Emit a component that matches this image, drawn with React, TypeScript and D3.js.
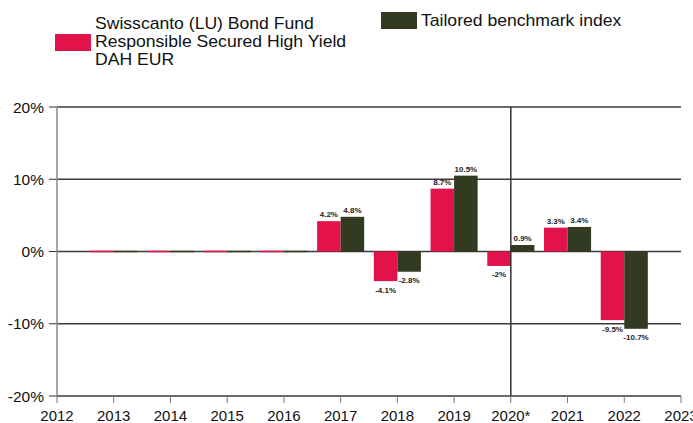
import React from "react";
import * as d3 from "d3";

const years = [2013, 2014, 2015, 2016, 2017, 2018, 2019, 2020, 2021, 2022];
const fundValues = [0, 0, 0, 0, 4.2, -4.1, 8.7, -2, 3.3, -9.5];
const fundLabels = ["", "", "", "", "4.2%", "-4.1%", "8.7%", "-2%", "3.3%", "-9.5%"];
const benchValues = [0, 0, 0, 0, 4.8, -2.8, 10.5, 0.9, 3.4, -10.7];
const benchLabels = ["", "", "", "", "4.8%", "-2.8%", "10.5%", "0.9%", "3.4%", "-10.7%"];
const xTickYears = [2012, 2013, 2014, 2015, 2016, 2017, 2018, 2019, 2020, 2021, 2022, 2023];
const xTickLabels = ["2012", "2013", "2014", "2015", "2016", "2017", "2018", "2019", "2020*", "2021", "2022", "2023"];
const yTicks = [20, 10, 0, -10, -20];
const fundName = ["Swisscanto (LU) Bond Fund", "Responsible Secured High Yield", "DAH EUR"];
const benchName = "Tailored benchmark index";

const PINK = "#E2124A";
const DARK = "#323A21";
const FONT = "Liberation Sans, Arial, sans-serif";

export default function App() {
  const W = 693, H = 423;
  const left = 57, right = 681, top = 107, bottom = 396;
  const x = d3.scaleLinear().domain([2012, 2023]).range([left, right]);
  const y = d3.scaleLinear().domain([-20, 20]).range([bottom, top]);
  const step = x(2013) - x(2012);
  const barW = step * 0.415;
  const minH = 1.5;
  const sx = 1.1;

  const bar = (v: number, cx: number, color: string, key: string) => {
    const y0 = y(0), y1 = y(v);
    let yy = Math.min(y0, y1);
    let h = Math.abs(y1 - y0);
    if (h < minH) { h = minH; yy = y0 - minH / 2; }
    return <rect key={key} x={cx} y={yy} width={barW} height={h} fill={color} />;
  };
  const label = (v: number, text: string, cx: number, key: string) => {
    if (!text) return null;
    const ty = v >= 0 ? y(v) - 4 : y(v) + 11.5;
    return (
      <text key={key} x={cx + barW / 2} y={ty} textAnchor="middle" fontSize={8} fontWeight="bold" fill="#222" fontFamily={FONT}>
        {text}
      </text>
    );
  };

  return (
    <svg width={W} height={H} style={{ position: "absolute", left: 0, top: 0 }} fontFamily={FONT}>
      <rect width={W} height={H} fill="#fff" />
      {/* legend */}
      <rect x={55} y={34} width={36} height={17} fill={PINK} />
      <g transform={`translate(95,0) scale(${sx},1)`}>
        {fundName.map((t, i) => (
          <text key={t} x={0} y={29 + i * 18} fontSize={16} fill="#111">{t}</text>
        ))}
      </g>
      <rect x={381} y={12} width={36} height={17} fill={DARK} />
      <g transform={`translate(421,0) scale(${sx},1)`}>
        <text x={0} y={26} fontSize={16} fill="#111">{benchName}</text>
      </g>

      {/* gridlines */}
      {yTicks.map((t) => (
        <line key={"g" + t} x1={left} x2={right} y1={y(t)} y2={y(t)} stroke="#3a3a3a" strokeWidth={1.5} />
      ))}
      {/* y ticks */}
      {yTicks.map((t) => (
        <g key={"yt" + t}>
          <line x1={left - 8} x2={left} y1={y(t)} y2={y(t)} stroke="#333" strokeWidth={1} />
          <text x={44} y={y(t)} dy="0.36em" textAnchor="end" fontSize={15.5} fill="#111">{t + "%"}</text>
        </g>
      ))}
      {/* left axis */}
      <line x1={left} x2={left} y1={top} y2={bottom} stroke="#888" strokeWidth={1.5} />
      {/* x ticks */}
      {xTickYears.map((yr, i) => (
        <g key={"xt" + yr}>
          <line x1={x(yr)} x2={x(yr)} y1={bottom} y2={bottom + 7} stroke="#777" strokeWidth={1} />
          <text x={x(yr)} y={421} textAnchor="middle" fontSize={15} fill="#111">{xTickLabels[i]}</text>
        </g>
      ))}

      {/* bars */}
      {years.map((yr, i) => bar(fundValues[i], x(yr) - barW, PINK, "f" + yr))}
      {years.map((yr, i) => bar(benchValues[i], x(yr), DARK, "b" + yr))}

      {/* 2020 marker line */}
      <line x1={x(2020)} x2={x(2020)} y1={top} y2={bottom} stroke="#333" strokeWidth={1.5} />

      {/* labels */}
      {years.map((yr, i) => label(fundValues[i], fundLabels[i], x(yr) - barW, "fl" + yr))}
      {years.map((yr, i) => label(benchValues[i], benchLabels[i], x(yr), "bl" + yr))}
    </svg>
  );
}
